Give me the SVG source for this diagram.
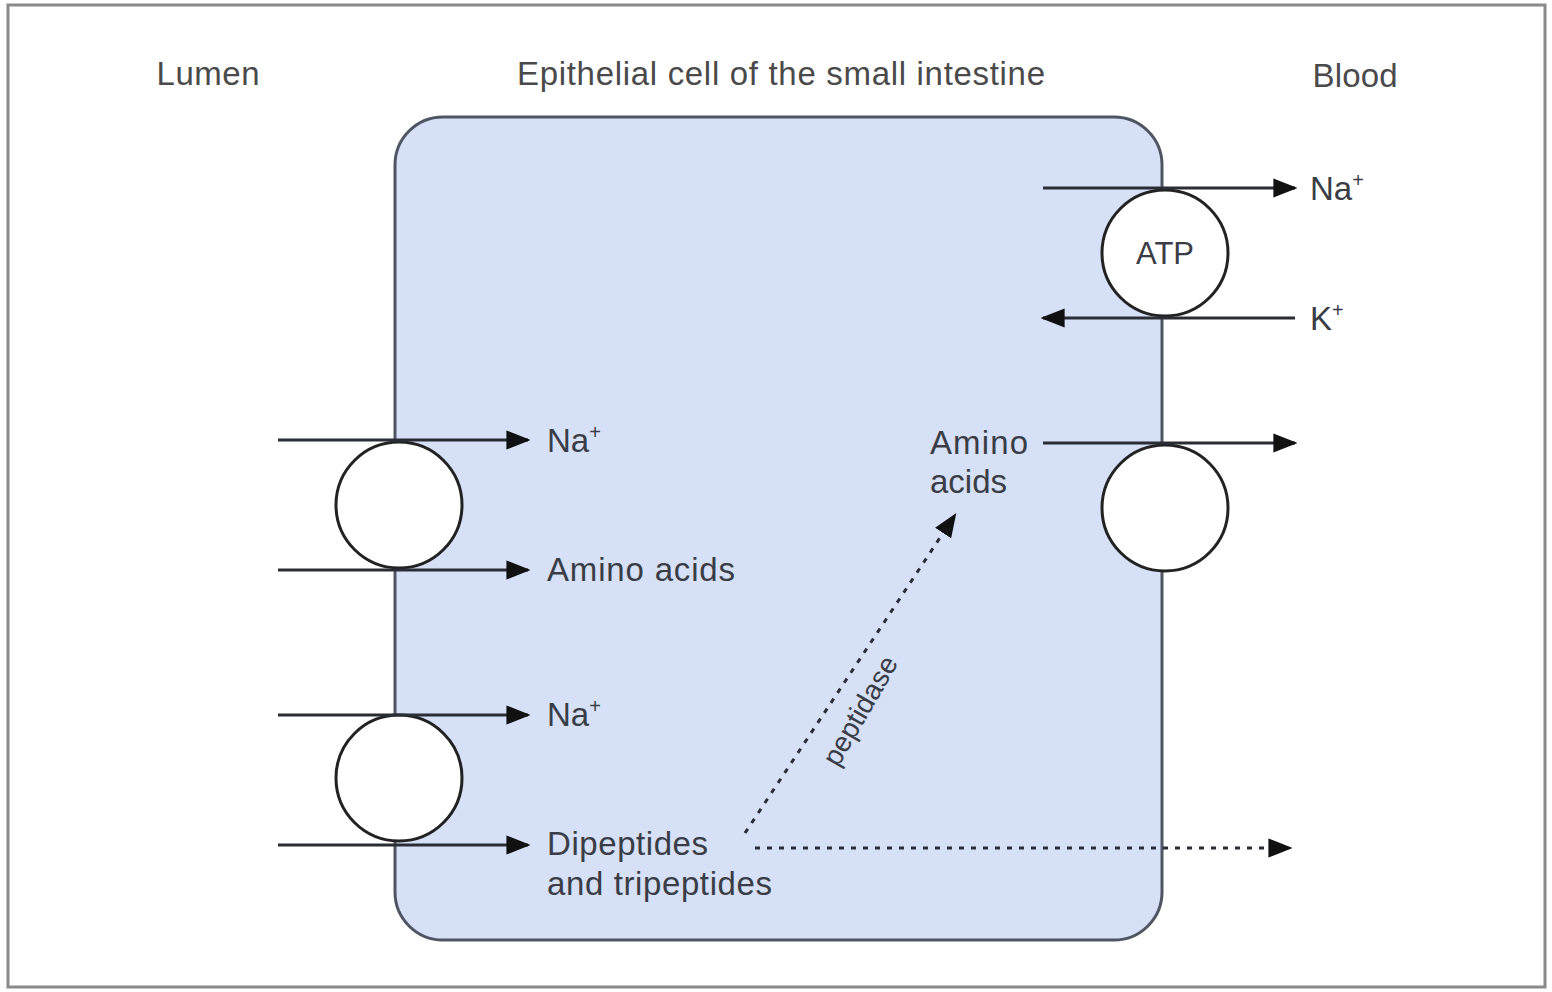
<svg xmlns="http://www.w3.org/2000/svg" width="1552" height="992" viewBox="0 0 1552 992">
<defs>
<style>
.t{font-family:"Liberation Sans",Arial,sans-serif;fill:#3a3d45}
.h{font-family:"Liberation Sans",Arial,sans-serif;fill:#4a4a4a;font-size:33px}
.l{font-size:33px}
.ln{stroke:#2a2d35;stroke-width:3;fill:none}
.dt{stroke:#2a2d35;stroke-width:3;fill:none;stroke-dasharray:5 7}
.pore{fill:#ffffff;stroke:#222;stroke-width:3}
</style>
<marker id="ahb" viewBox="0 0 10 10" refX="9" refY="5" markerWidth="24" markerHeight="24" markerUnits="userSpaceOnUse" orient="auto">
<path d="M0,1 L10,5 L0,9 z" fill="#111"/>
</marker>
</defs>
<rect x="0" y="0" width="1552" height="992" fill="#ffffff"/>
<rect x="8" y="5" width="1537" height="982" fill="none" stroke="#8a8a8a" stroke-width="3"/>

<g id="titles">
<text class="h" x="208" y="85" text-anchor="middle" textLength="103">Lumen</text>
<text class="h" x="781" y="85" text-anchor="middle" textLength="528">Epithelial cell of the small intestine</text>
<text class="h" x="1355" y="87" text-anchor="middle" textLength="85">Blood</text>
</g>

<g id="cell">
<rect x="395" y="117" width="767" height="823" rx="48" ry="48" fill="#d6e0f6" stroke="#4f5563" stroke-width="3"/>
</g>

<g id="transporter-na-aa">
<circle class="pore" cx="399" cy="505" r="63"/>
</g>
<g id="transporter-na-peptide">
<circle class="pore" cx="399" cy="778" r="63"/>
</g>
<g id="pump-atp">
<circle class="pore" cx="1165" cy="253" r="63"/>
<text class="t" font-size="31" x="1165" y="264" text-anchor="middle">ATP</text>
</g>
<g id="transporter-aa-out">
<circle class="pore" cx="1165" cy="508" r="63"/>
</g>

<g id="connectors">
<line class="ln" x1="278" y1="440" x2="528" y2="440" marker-end="url(#ahb)"/>
<line class="ln" x1="278" y1="570" x2="528" y2="570" marker-end="url(#ahb)"/>
<line class="ln" x1="278" y1="715" x2="528" y2="715" marker-end="url(#ahb)"/>
<line class="ln" x1="278" y1="845" x2="528" y2="845" marker-end="url(#ahb)"/>
<line class="ln" x1="1043" y1="188" x2="1295" y2="188" marker-end="url(#ahb)"/>
<line class="ln" x1="1295" y1="318" x2="1043" y2="318" marker-end="url(#ahb)"/>
<line class="ln" x1="1043" y1="443" x2="1295" y2="443" marker-end="url(#ahb)"/>
<line class="dt" x1="745" y1="833" x2="955" y2="515" marker-end="url(#ahb)"/>
<line class="dt" x1="755" y1="848" x2="1290" y2="848" marker-end="url(#ahb)"/>
</g>

<g id="labels">
<text class="t l" x="547" y="452">Na<tspan font-size="20" dy="-13">+</tspan></text>
<text class="t l" x="547" y="581" textLength="188">Amino acids</text>
<text class="t l" x="547" y="726">Na<tspan font-size="20" dy="-13">+</tspan></text>
<text class="t l" x="547" y="855" textLength="161">Dipeptides</text>
<text class="t l" x="547" y="895" textLength="225">and tripeptides</text>
<text class="t l" x="1310" y="200">Na<tspan font-size="20" dy="-13">+</tspan></text>
<text class="t l" x="1310" y="330">K<tspan font-size="20" dy="-13">+</tspan></text>
<text class="t l" x="930" y="454" textLength="98">Amino</text>
<text class="t l" x="930" y="493">acids</text>
<text class="t" font-size="28" transform="translate(838,768) rotate(-60)">peptidase</text>
</g>
</svg>
